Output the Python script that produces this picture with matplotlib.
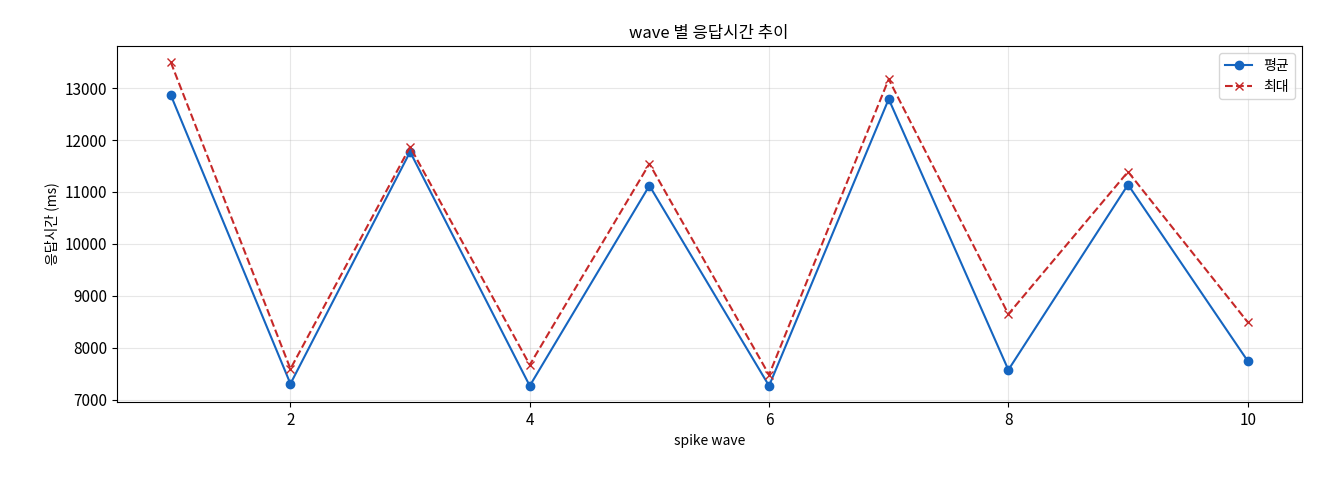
import matplotlib
matplotlib.use("Agg")
import matplotlib.pyplot as plt

plt.rcParams["font.family"] = ["Noto Sans CJK KR", "DejaVu Sans"]
plt.rcParams["axes.unicode_minus"] = False

waves = [1, 2, 3, 4, 5, 6, 7, 8, 9, 10]
mean_ms = [12866, 7307, 11773, 7268, 11122, 7268, 12789, 7575, 11141, 7748]
max_ms = [13498, 7594, 11869, 7671, 11543, 7479, 13172, 8648, 11390, 8495]

fig, ax = plt.subplots(figsize=(13.2, 4.8), dpi=100)
ax.plot(waves, mean_ms, marker="o", color="#1565c0", label="평균")
ax.plot(waves, max_ms, marker="x", linestyle="--", color="#c62828", label="최대")
ax.set_title("wave 별 응답시간 추이", fontsize=12)
ax.set_xlabel("spike wave")
ax.set_ylabel("응답시간 (ms)")
ax.tick_params(labelsize=11)
ax.grid(True, alpha=0.3)
ax.legend(loc="upper right")
fig.subplots_adjust(left=0.0886, right=0.986, top=0.904, bottom=0.1625)
plt.savefig("out.png", dpi=100)
